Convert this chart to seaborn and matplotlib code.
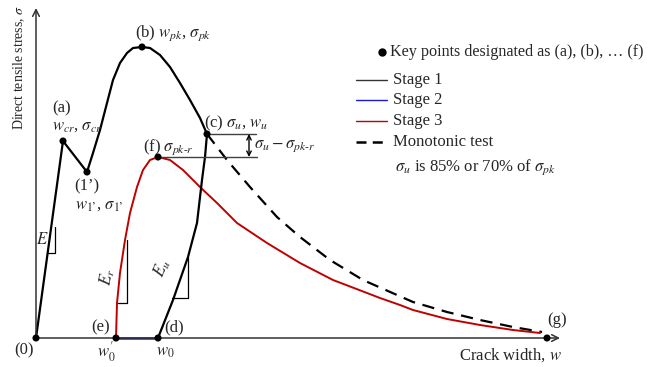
import numpy as np
import pandas as pd
import seaborn as sns
import matplotlib
matplotlib.use("Agg")
import matplotlib.pyplot as plt
from matplotlib.lines import Line2D

# ---------------- data (schematic units: crack width w, stress sigma) ----------------
stage1_w = [0, 27, 51, 57, 64, 71, 77, 84, 91, 97, 106, 114, 124, 134, 144, 154, 164, 171,
            169, 166, 161, 152, 137, 122]
stage1_s = [0, 197, 166, 185, 208, 235, 258, 275, 285, 290, 291, 290, 283, 271, 255, 238, 220, 204,
            181, 158, 115, 81, 38, 0]

stage2_w = [80, 122]
stage2_s = [0, 0]

stage3_w = [80, 81, 84, 89, 94, 101, 107, 114, 122, 134, 147, 164, 181, 201, 231, 264, 297,
            331, 344, 364, 377, 411, 444, 477, 504]
stage3_s = [0, 35, 65, 98, 125, 151, 168, 178, 181, 178, 168, 151, 135, 115, 95, 75, 58,
            45, 40, 33, 28, 19, 13, 8, 5]

mono_w = [171, 191, 214, 241, 264, 294, 327, 361, 377, 411, 444, 477, 506]
mono_s = [204, 178, 151, 121, 101, 78, 58, 43, 36, 26, 18, 11, 6]

key_names = ["(0)", "(a)", "(1')", "(b)", "(c)", "(f)", "(e)", "(d)", "(g)"]
key_w = [0, 27, 51, 106, 171, 122, 80, 122, 511]
key_s = [0, 197, 166, 291, 204, 181, 0, 0, 0]

legend_labels = ["Stage 1", "Stage 2", "Stage 3", "Monotonic test"]

# ---------------- style ----------------
sns.set_theme(style="white")
plt.rcParams["font.family"] = ["Liberation Serif", "DejaVu Serif"]
plt.rcParams["mathtext.fontset"] = "stix"
FS = 12

W, H = 652, 367
fig = plt.figure(figsize=(W / 100, H / 100), dpi=100)
ax = fig.add_axes([0, 0, 1, 1])
OX, OY = 36, 338  # pixel position of origin
ax.set_xlim(-OX, W - OX)
ax.set_ylim(-(H - OY), OY)
ax.axis("off")


def P(px, py):
    """pixel position -> data coordinates (for annotations only)"""
    return (px - OX, OY - py)


def F(px, py):
    """pixel position -> figure fraction"""
    return (px / W, 1 - py / H)


# axes with arrows
axc = "#333333"
ax.annotate("", xy=P(36, 8), xytext=P(36, 338),
            arrowprops=dict(arrowstyle="->", lw=1.1, color=axc, shrinkA=0, shrinkB=0,
                            mutation_scale=12))
ax.annotate("", xy=P(560, 338), xytext=P(36, 338),
            arrowprops=dict(arrowstyle="->", lw=1.1, color=axc, shrinkA=0, shrinkB=0,
                            mutation_scale=12))

# curves
red = "#c00000"
blue = "#1a1acc"
sns.lineplot(x=mono_w, y=mono_s, sort=False, estimator=None, ax=ax, color="black", lw=1.6)
ax.lines[-1].set_dashes((5.5, 3.5))
sns.lineplot(x=stage3_w, y=stage3_s, sort=False, estimator=None, ax=ax, color=red, lw=1.4)
sns.lineplot(x=stage2_w, y=stage2_s, sort=False, estimator=None, ax=ax, color=blue, lw=1.8)
sns.lineplot(x=stage1_w, y=stage1_s, sort=False, estimator=None, ax=ax, color="black", lw=1.6)

sns.scatterplot(x=key_w, y=key_s, ax=ax, color="black", s=26, edgecolor="none", zorder=5)

# reference lines for sigma_u - sigma_pk-r
gl = "#404040"
ax.plot([key_w[4], P(256, 0)[0]], [key_s[4], key_s[4]], color=gl, lw=1.0)
ax.plot([key_w[5], P(257, 0)[0]], [key_s[5], key_s[5]], color=gl, lw=1.0)
ax.annotate("", xy=(P(249, 0)[0], key_s[4]), xytext=(P(249, 0)[0], key_s[5]),
            arrowprops=dict(arrowstyle="<->", lw=1.0, color="black", shrinkA=0, shrinkB=0,
                            mutation_scale=8))

# slope triangles
tri = dict(color="black", lw=0.9)
ax.plot(*zip(P(48, 253), P(55, 253), P(55, 227)), **tri)
ax.plot(*zip(P(118, 303), P(127, 303), P(127, 240)), **tri)
ax.plot(*zip(P(172, 298), P(188, 298), P(188, 257)), **tri)

# labels
def T(px, py, s, ha="left", va="center", **kw):
    ax.text(*P(px, py), s, ha=ha, va=va, fontsize=kw.pop("fontsize", FS), **kw)

T(24, 350, "(0)", ha="center")
T(62, 108, "(a)", ha="center")
T(52, 126, r"$w_{cr}$, $\sigma_{cr}$")
T(87, 186, "(1’)", ha="center")
T(75, 205, r"$w_{1’}$, $\sigma_{1’}$")
T(135, 33, r"(b) $w_{pk}$, $\sigma_{pk}$")
T(204, 123, r"(c) $\sigma_u$, $w_u$")
T(143, 147, r"(f) $\sigma_{pk\text{-}r}$")
T(254, 146, r"$\sigma_u - \sigma_{pk\text{-}r}$")
T(42, 240, r"$E$", ha="center")
T(107, 277, r"$E_r$", ha="center", rotation=80)
T(162, 268, r"$E_u$", ha="center", rotation=67)
T(101, 327, "(e)", ha="center")
T(174, 327, "(d)", ha="center")
T(106, 352, r"$w_0'$", ha="center")
T(165, 352, r"$w_0$", ha="center")
T(557, 320, "(g)", ha="center")
T(562, 355, r"Crack width, $w$", ha="right")
ax.text(*P(19, 68), r"Direct tensile stress, $\sigma$", rotation=90, ha="center",
        va="center", fontsize=10)

# legend (drawn manually)
fig.add_artist(Line2D([F(382, 52)[0]], [F(382, 52)[1]], marker="o", ms=5, color="black",
                      transform=fig.transFigure))
fig.text(*F(390, 52), "Key points designated as (a), (b), … (f)", fontsize=11.6, va="center")
leg_y = [80, 100, 121, 142]
leg_c = ["#333333", blue, red, "black"]
leg_lw = [1.0, 1.0, 1.0, 1.8]
for lab, yy, cc, lw in zip(legend_labels, leg_y, leg_c, leg_lw):
    ln = Line2D([F(356, yy)[0], F(387, yy)[0]], [F(356, yy)[1], F(387, yy)[1]], color=cc, lw=lw,
                transform=fig.transFigure)
    if lab == "Monotonic test":
        ln.set_dashes((4, 2.5))
    fig.add_artist(ln)
    fig.text(*F(393, yy), lab, fontsize=FS, va="center")
fig.text(*F(395, 167), r"$\sigma_u$ is 85% or 70% of $\sigma_{pk}$", fontsize=FS, va="center")

fig.savefig("out.png", dpi=100)
